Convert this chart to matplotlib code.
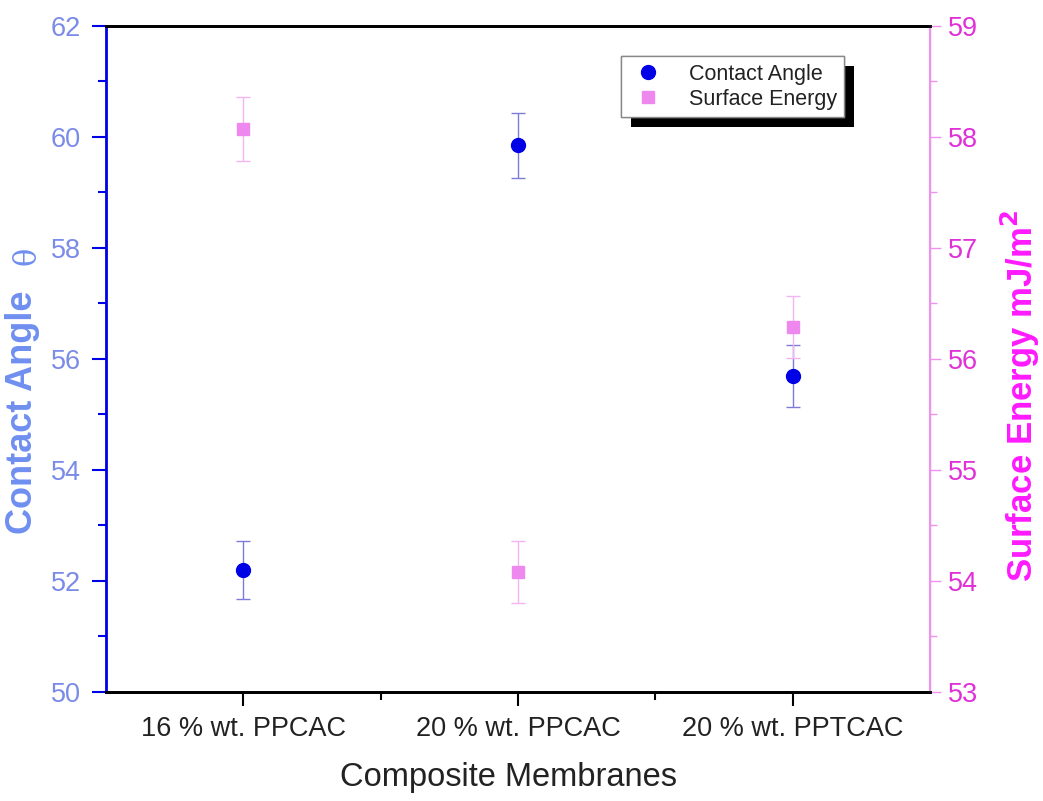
from matplotlib import pyplot as plt
from matplotlib.ticker import AutoMinorLocator, MultipleLocator
from matplotlib.lines import Line2D
import matplotlib.patheffects as pe
import numpy as np

membranes = ['16 % wt. PPCAC', '20 % wt. PPCAC', '20 % wt. PPTCAC']
contact_angle = [52.2, 59.85, 55.7]
contact_angle_err = [0.52, 0.59, 0.56]
surface_energy = [58.07, 54.08, 56.29]
surface_energy_err = [0.29, 0.28, 0.28]

BLUE = '#0000e6'
BLUE_ERR = '#7c7cd8'
BLUE_TEXT = '#7b8be8'
BLUE_LABEL = '#6f8ff0'
PINK = '#ee88ee'
PINK_ERR = '#f2b4f2'
MAGENTA = '#e030d8'
MAGENTA_LABEL = '#ff1aff'

plt.rcParams['font.family'] = ['Liberation Sans', 'DejaVu Sans']

fig = plt.figure(figsize=(10.43, 8.01), dpi=100)
ax = fig.add_axes([106 / 1043, 1 - 692 / 801, 824 / 1043, 666 / 801])
ax2 = ax.twinx()

x = np.arange(1, len(membranes) + 1)

ax.errorbar(x, contact_angle, yerr=contact_angle_err, fmt='o', color=BLUE, ms=10,
            ecolor=BLUE_ERR, elinewidth=1, capsize=5, capthick=1, zorder=3)
ax2.errorbar(x, surface_energy, yerr=surface_energy_err, fmt='s', color=PINK, ms=9,
             ecolor=PINK_ERR, elinewidth=1, capsize=5, capthick=1, zorder=3)

ax.set_xlim(0.5, 3.5)
ax.set_ylim(50, 62)
ax2.set_ylim(53, 59)

ax.set_xticks(x)
ax.set_xticklabels(membranes)
ax.set_xticks([1.5, 2.5], minor=True)
ax.yaxis.set_major_locator(MultipleLocator(2))
ax.yaxis.set_minor_locator(AutoMinorLocator(2))
ax2.yaxis.set_major_locator(MultipleLocator(1))
ax2.yaxis.set_minor_locator(AutoMinorLocator(2))

ax.tick_params(axis='x', which='major', length=10, width=1.5, labelsize=19.5, pad=7, colors='black',
               labelcolor='#222222')
ax.tick_params(axis='x', which='minor', length=6, width=1.5)
ax.tick_params(axis='y', which='major', length=10, width=1.5, colors=BLUE, labelcolor=BLUE_TEXT,
               labelsize=19.5, pad=8)
ax.tick_params(axis='y', which='minor', length=6, width=1.5, colors=BLUE)
ax2.tick_params(axis='y', which='major', length=8, width=1, colors='#f090f0', labelcolor=MAGENTA,
                labelsize=19.5, pad=5)
ax2.tick_params(axis='y', which='minor', length=5, width=1, colors='#f090f0')

for a in (ax, ax2):
    a.spines['top'].set_linewidth(2)
    a.spines['bottom'].set_linewidth(2)
ax.spines['left'].set_color(BLUE)
ax.spines['left'].set_linewidth(2)
ax2.spines['left'].set_visible(False)
ax2.spines['right'].set_color('#f090f0')
ax2.spines['right'].set_linewidth(1.5)

ax.set_xlabel('Composite Membranes', fontsize=23.5, color='#222222')
ax.xaxis.set_label_coords(0.488, -0.105)
ax.set_ylabel('Contact Angle', fontsize=26, fontweight='bold', color=BLUE_LABEL)
ax.yaxis.set_label_coords(-0.08, 0.42)
ax.text(-0.096, 0.655, 'θ', transform=ax.transAxes, rotation=90, fontsize=22,
        family='DejaVu Serif', color=BLUE_LABEL, ha='center', va='center')
ax2.set_ylabel(r'Surface Energy mJ/m$^\mathbf{2}$', fontsize=25, fontweight='bold',
               color=MAGENTA_LABEL)
ax2.yaxis.set_label_coords(1.084, 0.445)

# legend with a solid black drop shadow
handles = [Line2D([], [], marker='o', ls='none', color=BLUE, ms=10),
           Line2D([], [], marker='s', ls='none', color=PINK, ms=9)]
labels = ['Contact Angle', 'Surface Energy']
leg = ax2.legend(handles, labels, loc='upper left', bbox_to_anchor=(621 / 1043, 1 - 56 / 801),
                 bbox_transform=fig.transFigure, fontsize=15.5, frameon=True, fancybox=False,
                 handletextpad=1.0, borderpad=0.35, labelspacing=0.2, handlelength=1.8,
                 borderaxespad=0, framealpha=1)
frame = leg.get_frame()
frame.set_edgecolor('#888888')
frame.set_linewidth(1)
frame.set_path_effects([pe.withSimplePatchShadow(offset=(7, -7), shadow_rgbFace='black', alpha=1),
                        pe.Normal()])
for t in leg.get_texts():
    t.set_color('#222222')

fig.savefig('out.png', dpi=100)
